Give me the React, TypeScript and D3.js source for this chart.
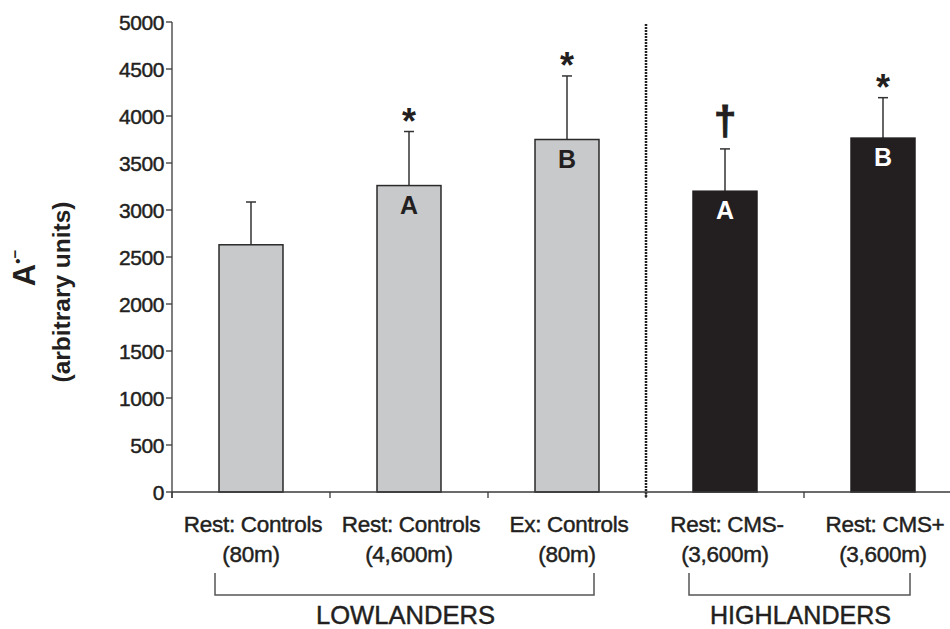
import React from "react";
import * as d3 from "d3";

const categoryLine1 = ["Rest: Controls", "Rest: Controls", "Ex: Controls", "Rest: CMS-", "Rest: CMS+"];
const categoryLine2 = ["(80m)", "(4,600m)", "(80m)", "(3,600m)", "(3,600m)"];
const means = [2630, 3260, 3750, 3200, 3765];
const upperErrors = [455, 575, 676, 450, 430];
const population = ["low", "low", "low", "high", "high"];
const letters = ["", "A", "B", "A", "B"];
const marks = ["", "*", "*", "†", "*"];
const yTicks = [0, 500, 1000, 1500, 2000, 2500, 3000, 3500, 4000, 4500, 5000];
const groupNames = ["LOWLANDERS", "HIGHLANDERS"];
const groupFirst = [0, 3];
const groupLast = [2, 4];

const W = 950;
const H = 629;
const FONT = "Arial, 'Liberation Sans', Helvetica, sans-serif";
const AXIS = "#3a3a3a";
const INK = "#231f20";

export default function App() {
  const idx = means.map((_, i) => i);
  const x = d3.scaleBand<number>().domain(idx).range([172, 962]).paddingInner(0).paddingOuter(0);
  const y = d3.scaleLinear().domain([0, 5000]).range([492, 22]);
  const bw = x.bandwidth() * 0.405;
  const cx = (i: number) => (x(i) as number) + x.bandwidth() / 2;
  const boundaries = d3.range(idx.length + 1).map((i) => 172 + i * x.bandwidth());
  const heavy = { stroke: INK, strokeWidth: 0.45 };

  return (
    <svg
      width={W}
      height={H}
      style={{ position: "absolute", left: 0, top: 0, background: "#fff" }}
      fontFamily={FONT}
    >
      <rect x={0} y={0} width={W} height={H} fill="#fff" />
      {/* separator */}
      <line x1={x(3)} x2={x(3)} y1={24} y2={497} stroke="#222" strokeWidth={2.5} strokeDasharray="2,1" />
      {/* bars */}
      {idx.map((i) => {
        const isLow = population[i] === "low";
        const top = y(means[i]);
        const errTop = y(means[i] + upperErrors[i]);
        return (
          <g key={i}>
            <line x1={cx(i)} x2={cx(i)} y1={top} y2={errTop} stroke="#333" strokeWidth={1.5} />
            <line x1={cx(i) - 5} x2={cx(i) + 5} y1={errTop} y2={errTop} stroke="#333" strokeWidth={1.5} />
            <rect
              x={cx(i) - bw / 2}
              y={top}
              width={bw}
              height={y(0) - top}
              fill={isLow ? "#c8c9cb" : INK}
              stroke={isLow ? "#2a2a2a" : INK}
              strokeWidth={1.5}
            />
            {letters[i] && (
              <text
                x={cx(i)}
                y={top + 28}
                textAnchor="middle"
                fontSize={25}
                fontWeight="bold"
                fill={isLow ? INK : "#fff"}
              >
                {letters[i]}
              </text>
            )}
            {marks[i] === "*" && (
              <text x={cx(i)} y={errTop + 2} textAnchor="middle" fontSize={36} fontWeight="bold" fill={INK}>
                *
              </text>
            )}
            {marks[i] === "†" && (
              <text x={cx(i)} y={errTop - 14} textAnchor="middle" fontSize={40} fontWeight="bold" fill={INK} stroke={INK} strokeWidth={1}>
                †
              </text>
            )}
          </g>
        );
      })}
      {/* y axis */}
      <line x1={172} x2={172} y1={y(5000)} y2={498} stroke={AXIS} strokeWidth={1.3} />
      {yTicks.map((t) => (
        <g key={t}>
          <line x1={166} x2={172} y1={y(t)} y2={y(t)} stroke={AXIS} strokeWidth={1.3} />
          <text x={164} y={y(t)} dy="0.36em" textAnchor="end" fontSize={21} fill={INK} letterSpacing={-0.4} {...heavy}>
            {t}
          </text>
        </g>
      ))}
      {/* x axis */}
      <line x1={172} x2={962} y1={y(0)} y2={y(0)} stroke={AXIS} strokeWidth={1.3} />
      {boundaries.map((b, i) => (
        <line key={i} x1={b} x2={b} y1={y(0)} y2={498} stroke={AXIS} strokeWidth={1.3} />
      ))}
      {idx.map((i) => (
        <g key={"l" + i}>
          <text x={cx(i) + 2} y={532} textAnchor="middle" fontSize={22.5} fill={INK} letterSpacing={-0.3} {...heavy}>
            {categoryLine1[i]}
          </text>
          <text x={cx(i)} y={562} textAnchor="middle" fontSize={22.5} fill={INK} letterSpacing={-0.3} {...heavy}>
            {categoryLine2[i]}
          </text>
        </g>
      ))}
      {/* group brackets */}
      {groupNames.map((g, k) => {
        const x1 = cx(groupFirst[k]) - 36;
        const x2 = cx(groupLast[k]) + 27;
        return (
          <g key={g}>
            <path d={`M${x1},573 V595 H${x2} V573`} fill="none" stroke="#555" strokeWidth={1.5} />
            <text
              x={(x1 + x2) / 2 + 1}
              y={624}
              textAnchor="middle"
              fontSize={25}
              fill={INK}
              textLength={g.length > 10 ? 181 : 179}
              lengthAdjust="spacingAndGlyphs"
              {...heavy}
            >
              {g}
            </text>
          </g>
        );
      })}
      {/* y title */}
      <text transform="translate(35,268) rotate(-90)" textAnchor="middle" fontWeight="bold" fill={INK}>
        <tspan fontSize={31}>A</tspan>
        <tspan fontSize={15} dy={-12}>•</tspan>
        <tspan fontSize={15} dy={-3}>−</tspan>
      </text>
      <text transform="translate(70,292) rotate(-90)" textAnchor="middle" fontWeight="bold" fontSize={24.5} fill={INK}>
        (arbitrary units)
      </text>
    </svg>
  );
}
